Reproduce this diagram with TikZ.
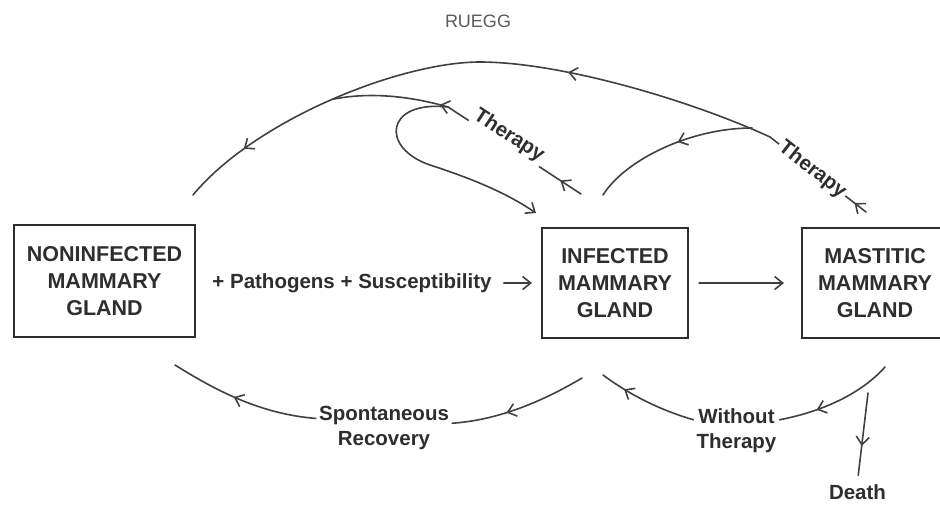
\documentclass[tikz,border=0pt]{standalone}
\usepackage{fontspec}
\setmainfont{Liberation Sans}
\usetikzlibrary{arrows.meta, decorations.markings}
\definecolor{cInk}{HTML}{2E2E2E}
\definecolor{cLine}{HTML}{404040}
\definecolor{cTitle}{HTML}{5A5A5A}

\begin{document}
\begin{tikzpicture}[
  x=1pt, y=-1pt,
  >={Straight Barb[length=8pt, width=13pt]},
  box/.style={draw=cInk, line width=2.2pt, align=center, text=cInk, inner sep=0pt,
              font=\bfseries\fontsize{21.5}{27}\selectfont},
  lbl/.style={align=center, text=cInk, inner sep=3pt,
              font=\bfseries\fontsize{20.5}{25}\selectfont},
  flow/.style={draw=cLine, line width=1.6pt, line cap=round},
  barb at/.style={postaction={decorate, decoration={markings,
      mark=at position #1 with {\arrow{>}}}}},
]
\useasboundingbox (0,0) rectangle (940,504);

% ---- Title ----------------------------------------------------------------
\node[text=cTitle, font=\fontsize{18}{20}\selectfont] (title) at (478,21) {RUEGG};

% ---- Gland states ---------------------------------------------------------
\node[box, minimum width=181pt, minimum height=112pt] (non) at (104.5,281)
  {NONINFECTED\\MAMMARY\\GLAND};
\node[box, minimum width=146pt, minimum height=110pt] (inf) at (615,283)
  {INFECTED\\MAMMARY\\GLAND};
\node[box, minimum width=146pt, minimum height=110pt] (mas) at (875,283)
  {MASTITIC\\MAMMARY\\GLAND};

% ---- Labels ---------------------------------------------------------------
\node[lbl] (cause) at (352,283) {+ Pathogens + Susceptibility};
\node[lbl] (spont) at (384,428) {Spontaneous\\Recovery};
\node[lbl] (wo) at (736.5,430.5) {Without\\Therapy};
\node[lbl] (death) at (857.5,492) {Death};

% free ends of the curved connectors
\coordinate (nonT) at (193,195);
\coordinate (nonB) at (175,365);
\coordinate (infT) at (581,194);
\coordinate (infL) at (536,213);
\coordinate (infR) at (603,195);
\coordinate (infB) at (582,378);
\coordinate (infB2) at (603,375);
\coordinate (masT) at (866,212);
\coordinate (masB) at (885,367);
\coordinate (dth) at (868,393);
\coordinate (ji) at (448,107);
\coordinate (jm) at (770,137);
\coordinate (jb) at (752,128);
\coordinate (merge) at (334,99);

% ---- Straight transitions ---------------------------------------------
\draw[flow, ->, shorten <=9pt, shorten >=9pt] (cause) -- (inf);
\draw[flow, ->, shorten <=10pt, shorten >=17pt] (inf) -- (mas);

% ---- Therapy (upper loops) --------------------------------------------
\draw[flow, barb at=0.12] (masT) --
  node[lbl, pos=0.56, sloped, fill=white, inner sep=2pt] (thm) {Therapy} (jm);
\draw[flow, barb at=0.34, barb at=0.89] (jm)
  .. controls (690,100) and (560,62) .. (480,62)
  .. controls (400,62) and (255,120) .. (nonT);
\draw[flow, barb at=0.45] (jb) .. controls (690,128) and (625,160) .. (infR);
\draw[flow, barb at=0.09, barb at=0.61] (infT) --
  node[lbl, pos=0.58, sloped, above=-3pt, fill=white, inner sep=2pt] (thi) {Therapy} (ji)
  .. controls (410,96) and (370,92) .. (merge);
\draw[flow, ->] (ji) .. controls (385,100) and (380,148) .. (430,165)
  .. controls (470,178) and (505,192) .. (infL);

% ---- Lower returns ------------------------------------------------------
\draw[flow, barb at=0.6] (infB) .. controls (545,400) and (500,420) .. (spont.4);
\draw[flow, barb at=0.56] (spont.172) .. controls (260,414) and (215,390) .. (nonB);
\draw[flow, barb at=0.68] (masB) .. controls (860,395) and (820,412) .. (wo.14);
\draw[flow, barb at=0.75] (wo.166) .. controls (660,410) and (630,395) .. (infB2);
\draw[flow, barb at=0.6, shorten >=6pt] (dth) -- (death.north);

\end{tikzpicture}
\end{document}
